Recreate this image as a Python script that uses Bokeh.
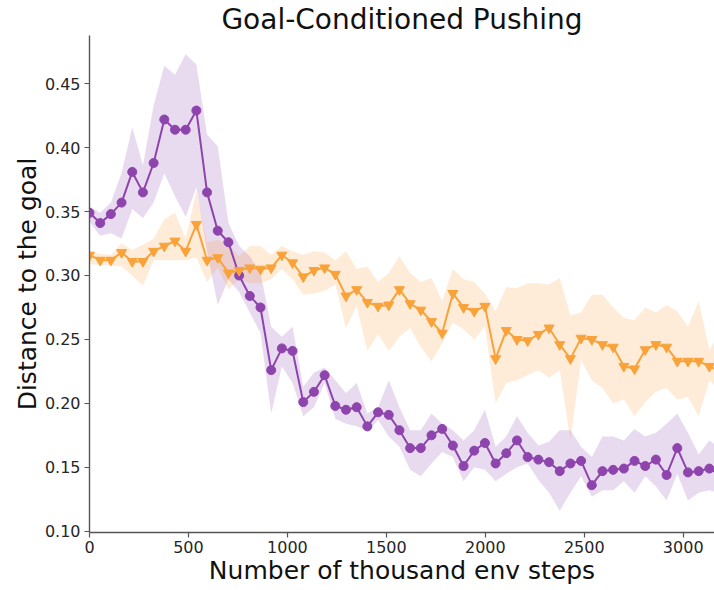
from bokeh.plotting import figure
from bokeh.models import Range1d, FixedTicker, NumeralTickFormatter
from bokeh.embed import file_html
from bokeh.resources import INLINE

title_text = "Goal-Conditioned Pushing"
x_label = "Number of thousand env steps"
y_label = "Distance to the goal"

steps = [0, 54, 108, 162, 216, 270, 324, 378, 432, 486, 540, 594, 648, 702, 756, 810,
         864, 918, 972, 1026, 1080, 1134, 1188, 1242, 1296, 1350, 1404, 1458, 1512, 1566,
         1620, 1674, 1728, 1782, 1836, 1890, 1944, 1998, 2052, 2106, 2160, 2214, 2268,
         2322, 2376, 2430, 2484, 2538, 2592, 2646, 2700, 2754, 2808, 2862, 2916, 2970,
         3024, 3078, 3132, 3186]

purple_mean = [0.349, 0.341, 0.348, 0.357, 0.381, 0.365, 0.388, 0.422, 0.414, 0.414,
               0.429, 0.365, 0.335, 0.326, 0.300, 0.284, 0.275, 0.226, 0.243, 0.241,
               0.201, 0.209, 0.222, 0.198, 0.195, 0.197, 0.182, 0.193, 0.191, 0.179,
               0.165, 0.165, 0.175, 0.180, 0.167, 0.151, 0.163, 0.169, 0.153, 0.161,
               0.171, 0.158, 0.156, 0.154, 0.147, 0.153, 0.155, 0.136, 0.147, 0.148,
               0.149, 0.155, 0.151, 0.156, 0.144, 0.165, 0.146, 0.147, 0.149, 0.144]
purple_upper = [0.354, 0.349, 0.357, 0.380, 0.416, 0.386, 0.433, 0.464, 0.457, 0.473,
                0.465, 0.410, 0.401, 0.341, 0.323, 0.315, 0.302, 0.260, 0.252, 0.260,
                0.213, 0.224, 0.228, 0.218, 0.208, 0.216, 0.192, 0.197, 0.218, 0.197,
                0.179, 0.179, 0.192, 0.184, 0.179, 0.171, 0.179, 0.195, 0.166, 0.174,
                0.190, 0.177, 0.167, 0.170, 0.179, 0.179, 0.166, 0.158, 0.174, 0.174,
                0.171, 0.180, 0.174, 0.177, 0.184, 0.192, 0.177, 0.160, 0.171, 0.165]
purple_lower = [0.342, 0.331, 0.333, 0.329, 0.352, 0.345, 0.357, 0.380, 0.362, 0.346,
                0.369, 0.319, 0.277, 0.297, 0.287, 0.271, 0.255, 0.192, 0.229, 0.216,
                0.190, 0.197, 0.216, 0.188, 0.184, 0.182, 0.178, 0.187, 0.174, 0.166,
                0.148, 0.143, 0.153, 0.162, 0.158, 0.139, 0.150, 0.148, 0.139, 0.145,
                0.150, 0.153, 0.140, 0.130, 0.116, 0.130, 0.143, 0.127, 0.132, 0.132,
                0.139, 0.130, 0.143, 0.135, 0.124, 0.145, 0.124, 0.130, 0.132, 0.130]

orange_mean = [0.316, 0.312, 0.312, 0.318, 0.311, 0.311, 0.319, 0.323, 0.327, 0.319,
               0.340, 0.312, 0.314, 0.302, 0.304, 0.306, 0.305, 0.306, 0.316, 0.310,
               0.299, 0.304, 0.306, 0.301, 0.284, 0.289, 0.279, 0.276, 0.277, 0.289,
               0.278, 0.273, 0.264, 0.255, 0.286, 0.275, 0.272, 0.276, 0.235, 0.257,
               0.250, 0.249, 0.254, 0.259, 0.246, 0.235, 0.251, 0.250, 0.246, 0.244,
               0.229, 0.227, 0.242, 0.246, 0.244, 0.233, 0.233, 0.233, 0.229, 0.225]
orange_upper = [0.318, 0.317, 0.316, 0.325, 0.320, 0.324, 0.329, 0.344, 0.349, 0.329,
                0.366, 0.326, 0.328, 0.324, 0.315, 0.323, 0.323, 0.316, 0.323, 0.319,
                0.316, 0.319, 0.318, 0.312, 0.319, 0.305, 0.307, 0.295, 0.302, 0.315,
                0.302, 0.295, 0.298, 0.280, 0.305, 0.297, 0.295, 0.286, 0.272, 0.291,
                0.290, 0.294, 0.294, 0.293, 0.298, 0.269, 0.271, 0.285, 0.285, 0.275,
                0.267, 0.265, 0.275, 0.271, 0.277, 0.272, 0.260, 0.280, 0.242, 0.255]
orange_lower = [0.309, 0.308, 0.308, 0.307, 0.300, 0.292, 0.312, 0.312, 0.312, 0.312,
                0.314, 0.295, 0.306, 0.289, 0.297, 0.294, 0.294, 0.297, 0.305, 0.297,
                0.285, 0.286, 0.288, 0.293, 0.259, 0.276, 0.241, 0.254, 0.241, 0.252,
                0.259, 0.244, 0.233, 0.247, 0.263, 0.258, 0.250, 0.260, 0.200, 0.216,
                0.218, 0.222, 0.226, 0.220, 0.226, 0.171, 0.234, 0.218, 0.212, 0.200,
                0.203, 0.190, 0.201, 0.209, 0.212, 0.203, 0.205, 0.190, 0.218, 0.210]

x_ticks = [0, 500, 1000, 1500, 2000, 2500, 3000]
y_ticks = [0.10, 0.15, 0.20, 0.25, 0.30, 0.35, 0.40, 0.45]

PURPLE = "#8e44ad"
ORANGE = "#f9a23a"
FONT = "DejaVu Sans"

p = figure(width=714, height=590, output_backend="svg", toolbar_location=None,
           title=title_text,
           x_range=Range1d(0, 3158), y_range=Range1d(0.099, 0.4877),
           min_border_left=89, min_border_right=0, min_border_top=0, min_border_bottom=58)
p.title.text_font = FONT
p.title.text_font_size = "28px"
p.title.text_font_style = "normal"
p.title.text_color = "#111111"
p.title.align = "center"
p.title.standoff = 0
p.title.offset = 0
p.outline_line_color = None
p.xgrid.visible = False
p.ygrid.visible = False
p.background_fill_color = "white"
p.border_fill_color = "white"

p.varea(x=steps, y1=purple_lower, y2=purple_upper, fill_color=PURPLE, fill_alpha=0.2)
p.varea(x=steps, y1=orange_lower, y2=orange_upper, fill_color=ORANGE, fill_alpha=0.2)

p.line(steps, purple_mean, line_color=PURPLE, line_width=2)
p.scatter(steps, purple_mean, marker="circle", size=9, fill_color=PURPLE, line_color=PURPLE)
p.line(steps, orange_mean, line_color=ORANGE, line_width=2)
p.scatter(steps, orange_mean, marker="inverted_triangle", size=10, fill_color=ORANGE, line_color=ORANGE)

for ax in (p.xaxis[0], p.yaxis[0]):
    ax.axis_line_color = "#555555"
    ax.axis_line_width = 1.4
    ax.major_tick_line_color = "#555555"
    ax.major_tick_line_width = 1.2
    ax.major_tick_out = 5
    ax.major_tick_in = 0
    ax.minor_tick_line_color = None
    ax.major_label_text_font = FONT
    ax.major_label_text_font_size = "16px"
    ax.major_label_text_color = "#262626"
    ax.axis_label_text_font = FONT
    ax.axis_label_text_font_size = "25px"
    ax.axis_label_text_font_style = "normal"
    ax.axis_label_text_color = "#111111"

p.xaxis.ticker = FixedTicker(ticks=x_ticks)
p.yaxis.ticker = FixedTicker(ticks=y_ticks)
p.yaxis.formatter = NumeralTickFormatter(format="0.00")
p.xaxis.axis_label = x_label
p.yaxis.axis_label = y_label
p.xaxis.major_label_standoff = 3
p.xaxis.axis_label_standoff = 0
p.yaxis.major_label_standoff = 4
p.yaxis.axis_label_standoff = 0

open("out.html", "w").write(file_html(p, INLINE))
